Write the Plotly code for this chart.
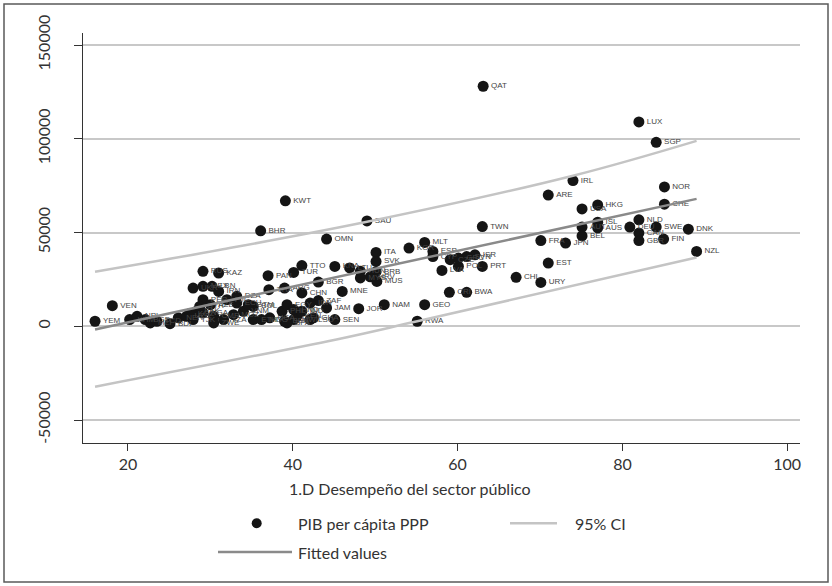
import plotly.graph_objects as go

# ---------------- data ----------------
countries = ["QAT","LUX","SGP","IRL","NOR","ARE","HKG","USA","CHE","NLD","ISL","AUT","AUS","DEU","SWE",
             "CAN","GBR","FIN","DNK","NZL","BEL","JPN","FRA","EST","CHL","URY","BWA","CRI","TWN","MLT",
             "KOR","ESP","CYP","LVA","POL","PRT","ISR","SVN","CZE","GRC","ITA","SVK","TTO","TUR","PAN",
             "KNA","LTU","HUN","MYS","BRB","HRV","MUS","BGR","MNE","ARG","CHN","ZAF","JAM","JOR","NAM",
             "SEN","LSO","BEN","GEO","RWA","OMN","BHR","KWT","SAU","VEN","YEM","RUS","KAZ","UKR","MEX",
             "LBN","IRN","PER","FJI","DZA","THA","KHM","NPL","BGD","MLI","TCD","BDI","NER","UZB","TJK",
             "PAK","KGZ","NGA","CMR","ZWE","TZA","MOZ","VNM","BOL","ETH","MDG","UGA","PHL","EGY","KEN",
             "ECU","GTM","AZE","SYR","HND","IND","IDN","MWI","GHA","BFA"]
x_perf = [63.1,82.0,84.1,74.0,85.1,71.0,77.0,75.1,85.1,82.0,77.0,75.1,77.0,80.9,84.1,
          82.0,82.0,85.0,88.0,89.0,75.1,73.1,70.1,71.0,67.1,70.1,61.1,59.0,63.0,56.0,
          54.1,57.0,57.0,58.1,60.1,63.0,62.1,61.1,59.1,60.1,50.1,50.1,41.1,40.1,37.0,
          45.1,46.9,48.2,48.2,50.1,49.4,50.2,43.1,46.0,39.0,41.1,43.1,44.1,48.0,51.1,
          45.1,42.1,39.0,56.0,55.1,44.1,36.1,39.1,49.0,18.1,16.0,29.1,31.0,27.9,29.1,
          30.2,31.0,29.1,32.0,33.2,37.1,20.2,21.1,22.1,22.7,23.5,25.1,26.1,27.1,27.9,
          28.3,27.5,29.1,30.4,30.4,31.6,32.8,34.0,35.2,35.2,36.2,37.2,38.7,39.3,40.5,
          33.2,34.6,30.0,28.7,40.1,41.1,42.1,40.1,42.5,39.3]
gdp_ppp = [128000,109000,98100,77700,74300,70000,64700,62600,65100,56800,55500,52900,52500,52900,52900,
           49700,45700,46500,51800,39900,48200,44400,45700,33700,26100,23400,18100,18100,53200,44700,
           41700,39900,37200,29800,31900,31900,38100,37200,35500,36400,39400,34600,32400,28700,27000,
           31900,31100,29300,25800,29100,26400,23900,23600,18600,20400,17800,13700,9800,9400,11500,
           3600,3600,2700,11500,2700,46500,50900,66900,56200,11000,2700,29300,28400,20400,21300,
           21300,18600,14200,14200,16000,19500,3600,5300,3600,1800,2700,1400,4500,5300,3600,
           8000,6800,7100,5300,1800,3600,6200,8000,10600,3600,3600,4500,8000,11500,5300,
           12400,11500,11500,10600,8900,8000,12400,3600,4500,1800]

fit_x = [16, 89]
fit_y = [-1750, 67940]
ci_up_x = [16, 31.2, 49, 74, 89]
ci_up_y = [29100, 40800, 55700, 80300, 98900]
ci_lo_x = [16, 45.3, 55.1, 89]
ci_lo_y = [-32200, -7000, 2660, 36700]

y_ticks = [-50000, 0, 50000, 100000, 150000]
y_ticktext = ["-50000", "0", "50000", "100000", "150000"]
x_ticks = [20, 40, 60, 80, 100]

x_title = "1.D Desempeño del sector público"
legend_labels = ["PIB per cápita PPP", "95% CI", "Fitted values"]

# ---------------- layout helpers ----------------
W, H = 832, 586
L, R, T, B = 83, 32, 33, 143
PW, PH = W - L - R, H - T - B

def px(xp):
    return (xp - L) / PW

def py(yp):
    return (H - B - yp) / PH

FONT = "Lato, 'Open Sans', sans-serif"
TXT = "#333333"

fig = go.Figure()
fig.add_trace(go.Scatter(
    x=x_perf, y=gdp_ppp, mode="markers+text", text=countries,
    textposition="middle right",
    textfont=dict(family="Liberation Sans, Arial, sans-serif", size=8, color="#444444"),
    marker=dict(size=11, color="#151515"),
    showlegend=False, cliponaxis=False))
fig.add_trace(go.Scatter(x=ci_up_x, y=ci_up_y, mode="lines", line=dict(color="#c4c4c4", width=2.5, shape="spline"),
                         showlegend=False))
fig.add_trace(go.Scatter(x=ci_lo_x, y=ci_lo_y, mode="lines", line=dict(color="#c4c4c4", width=2.5, shape="spline"),
                         showlegend=False))
fig.add_trace(go.Scatter(x=fit_x, y=fit_y, mode="lines", line=dict(color="#8a8a8a", width=2.5),
                         showlegend=False))

shapes = []
annotations = []
# outer frame
shapes.append(dict(type="rect", xref="paper", yref="paper", x0=px(4), x1=px(828), y0=py(4), y1=py(582),
                   line=dict(color="#5a5a5a", width=1.5), fillcolor="rgba(0,0,0,0)", layer="below"))
# legend
r = 5
shapes.append(dict(type="circle", xref="paper", yref="paper", x0=px(256.7 - r), x1=px(256.7 + r),
                   y0=py(523.3 + r), y1=py(523.3 - r), fillcolor="#151515", line=dict(width=0)))
shapes.append(dict(type="line", xref="paper", yref="paper", x0=px(510), x1=px(557), y0=py(523.3), y1=py(523.3),
                   line=dict(color="#c4c4c4", width=2.5)))
shapes.append(dict(type="line", xref="paper", yref="paper", x0=px(218), x1=px(292), y0=py(552), y1=py(552),
                   line=dict(color="#8a8a8a", width=2.5)))
for txt, xx, yy in [(legend_labels[0], 296, 523.3), (legend_labels[1], 573, 523.3), (legend_labels[2], 296, 552)]:
    annotations.append(dict(text=txt, xref="paper", yref="paper", x=px(xx), y=py(yy), xanchor="left",
                            yanchor="middle", showarrow=False, font=dict(family=FONT, size=16, color=TXT)))
# x title
annotations.append(dict(text=x_title, xref="paper", yref="paper", x=px(410), y=py(488), xanchor="center",
                        yanchor="middle", showarrow=False, font=dict(family=FONT, size=16, color=TXT)))

fig.update_layout(
    width=W, height=H, margin=dict(l=L, r=R, t=T, b=B),
    paper_bgcolor="white", plot_bgcolor="white",
    font=dict(family=FONT, color=TXT),
    shapes=shapes, annotations=annotations,
    xaxis=dict(range=[14.54, 101.55], tickvals=x_ticks, showgrid=False, zeroline=False,
               showline=True, linecolor="#333333", linewidth=1.2, ticks="outside", ticklen=7,
               tickcolor="#333333", tickfont=dict(family=FONT, size=16, color=TXT)),
    yaxis=dict(range=[-62230, 156400], tickvals=y_ticks, ticktext=y_ticktext, tickangle=-90,
               showgrid=True, gridcolor="#c8c8c8", gridwidth=1.5, zeroline=False,
               showline=True, linecolor="#333333", linewidth=1.2, ticks="outside", ticklen=8,
               tickcolor="#333333", tickfont=dict(family=FONT, size=16, color=TXT),
               ticklabelstandoff=18),
)

fig.write_html("out.html")
